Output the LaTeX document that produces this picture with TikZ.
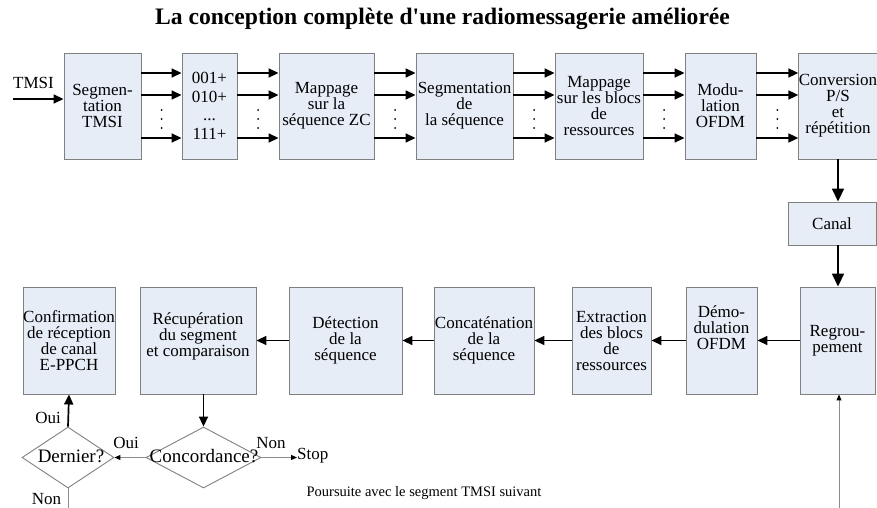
\documentclass[tikz,border=0pt]{standalone}
\usepackage{fontspec}
\setmainfont{Liberation Serif}
\newfontfamily\titlefont{Liberation Serif}
\usetikzlibrary{arrows.meta,shapes.geometric,calc}
\definecolor{boxfill}{HTML}{E7EDF7}
\definecolor{boxline}{HTML}{808080}
\definecolor{thinline}{HTML}{8C8C8C}
\begin{document}
\begin{tikzpicture}[x=1pt,y=-1pt,
  box/.style={draw=boxline, fill=boxfill, line width=0.9pt, align=center, inner sep=0pt,
              font=\fontsize{17}{16}\selectfont},
  txt/.style={align=center, inner sep=0pt, font=\fontsize{17}{16}\selectfont},
  lbl/.style={inner sep=0pt, font=\fontsize{17}{19}\selectfont},
  dia/.style={draw=boxline, fill=white, line width=0.9pt, shape=diamond, inner sep=0pt},
  arr/.style={line width=1.7pt, -{Triangle[length=10pt,width=9pt]}},
  varr/.style={line width=1.7pt, -{Triangle[length=13pt,width=12pt]}},
  thin/.style={draw=thinline, line width=1pt, -{Triangle[length=6pt,width=5pt,color=black]}},
  thinplain/.style={draw=thinline, line width=1pt}
]
\useasboundingbox (0,0) rectangle (877,508);

\node[inner sep=0pt, font=\titlefont\fontsize{23.6}{26}\selectfont\bfseries] (title) at (442.5,19)
  {La conception complète d'une radiomessagerie améliorée};

% top row
\node[box, minimum width=77pt, minimum height=106pt] (seg) at (102.5,106) {Segmen-\\tation\\TMSI};
\node[box, minimum width=55pt, minimum height=106pt, font=\fontsize{17}{18.5}\selectfont] (num) at (209.5,106) {001+\\010+\\...\\111+};
\node[box, minimum width=95pt, minimum height=106pt] (mapzc) at (326.5,106) {Mappage\\sur la\\séquence ZC};
\node[box, minimum width=97pt, minimum height=106pt] (segseq) at (464.5,106) {Segmentation\\de\\la séquence};
\node[box, minimum width=88pt, minimum height=106pt] (mapbl) at (599,106) {Mappage\\sur les blocs\\de\\ressources};
\node[box, minimum width=71pt, minimum height=106pt] (mod) at (720.5,106) {Modu-\\lation\\OFDM};
\node[box, minimum width=74pt, minimum height=106pt] (conv) at (838,106) {Conversion\\P/S\\et\\répétition};

\node[box, minimum width=88pt, minimum height=43pt] (canal) at (832,223.5) {Canal};

% bottom row
\node[box, minimum width=75pt, minimum height=107pt] (regr) at (837.5,340.5) {Regrou-\\pement};
\node[box, minimum width=71pt, minimum height=107pt] (demod) at (721.5,340.5) {};
\node[txt] (demodT) at (721.5,328) {Démo-\\dulation\\OFDM};
\node[box, minimum width=79pt, minimum height=107pt] (extr) at (611.5,340.5) {Extraction\\des blocs\\de\\ressources};
\node[box, minimum width=100pt, minimum height=107pt] (concat) at (484,340.5) {Concaténation\\de la\\séquence};
\node[box, minimum width=113pt, minimum height=107pt] (detect) at (345.5,340.5) {Détection\\de la\\séquence};
\node[box, minimum width=116pt, minimum height=107pt] (recup) at (198,340.5) {};
\node[txt] (recupT) at (198,336) {Récupération\\du segment\\et comparaison};
\node[box, minimum width=92pt, minimum height=107pt] (conf) at (69,340.5) {Confirmation\\de réception\\de canal\\E-PPCH};

% diamonds
\node[dia, minimum width=115pt, minimum height=61pt] (conc) at (203.5,457.5) {};
\node[inner sep=0pt, font=\fontsize{19}{21}\selectfont] (concT) at (204,456) {Concordance?};
\node[dia, minimum width=92pt, minimum height=61pt] (dern) at (68,457.5) {};
\node[inner sep=0pt, font=\fontsize{19}{21}\selectfont] (dernT) at (71,456) {Dernier?};

% labels
\node[lbl] (tmsi) at (33.5,83) {TMSI};
\node[lbl] (oui1) at (48,418) {Oui};
\node[lbl] (oui2) at (126,443) {Oui};
\node[lbl] (non1) at (271,443) {Non};
\node[lbl, anchor=west] (stop) at (297,456) {Stop};
\node[lbl] (non2) at (46.5,499) {Non};
\node[inner sep=0pt, font=\fontsize{14.5}{16}\selectfont] (pours) at (424,493) {Poursuite avec le segment TMSI suivant};

\coordinate (tmsiin) at (13,99);
\coordinate (dernout) at (68,508);
\coordinate (loopin) at (839,508);

% top connectors
\draw[arr] (tmsiin) -- (tmsiin -| seg.west);
\foreach \a/\b in {seg/num,num/mapzc,mapzc/segseq,segseq/mapbl,mapbl/mod,mod/conv}{
  \foreach \dy in {-33,-11,32}
    \draw[arr] ($(\a.east)+(0,\dy)$) -- ($(\b.west)+(0,\dy)$);
  \foreach \dy in {4,13,22}
    \fill ($(\a.east)!0.5!(\b.west)+(0,\dy)$) circle (1pt);
}

\draw[varr] (conv.south) -- (conv.south |- canal.north);
\draw[varr] (conv.south |- canal.south) -- (conv.south |- regr.north);

% bottom connectors
\draw[arr] (regr.west) -- (demod.east);
\draw[arr] (demod.west) -- (extr.east);
\draw[arr] (extr.west) -- (concat.east);
\draw[arr] (concat.west) -- (detect.east);
\draw[arr] (detect.west) -- (recup.east);
\draw[arr] (conc.north |- recup.south) -- (conc.north);
\draw[arr] (dern.north) -- (conf.south);
\draw[thin] (conc.west) -- (dern.east);
\draw[thin] (conc.east) -- (conc.east -| stop.west);
\draw[thinplain] (dern.south) -- (dernout);
\draw[thin] (loopin) -- (loopin |- regr.south);
\end{tikzpicture}
\end{document}
